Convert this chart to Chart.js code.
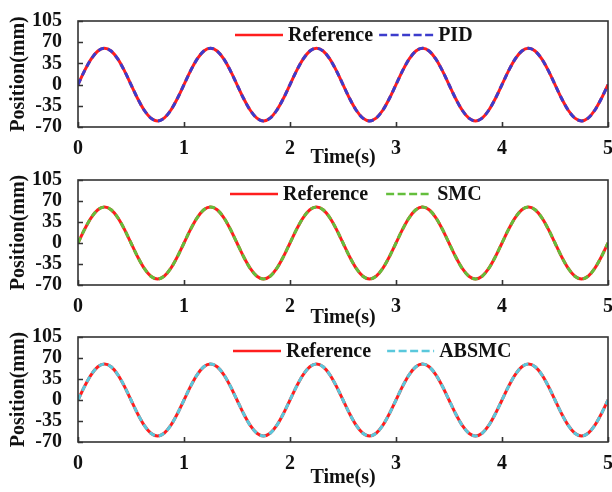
<!DOCTYPE html>
<html>
<head>
<meta charset="utf-8">
<script src="https://cdn.jsdelivr.net/npm/chart.js@4.4.1/dist/chart.umd.min.js"></script>
<style>
html, body { margin: 0; padding: 0; background: #fff; }
#wrap { position: relative; width: 612px; height: 492px; overflow: hidden; }
.panel { position: absolute; left: 0; width: 612px; height: 170px; }
</style>
</head>
<body>
<div id="wrap">
  <div class="panel" style="top:0px"><canvas id="c1" width="612" height="170"></canvas></div>
  <div class="panel" style="top:160px"><canvas id="c2" width="612" height="170"></canvas></div>
  <div class="panel" style="top:320px"><canvas id="c3" width="612" height="170"></canvas></div>
</div>
<script>
"use strict";

// time axis (s), one sample every 1/16 s
var timeS = [
  0, 0.0625, 0.125, 0.1875, 0.25, 0.3125, 0.375, 0.4375, 0.5, 0.5625, 0.625, 0.6875, 0.75, 0.8125, 0.875, 0.9375,
  1, 1.0625, 1.125, 1.1875, 1.25, 1.3125, 1.375, 1.4375, 1.5, 1.5625, 1.625, 1.6875, 1.75, 1.8125, 1.875, 1.9375,
  2, 2.0625, 2.125, 2.1875, 2.25, 2.3125, 2.375, 2.4375, 2.5, 2.5625, 2.625, 2.6875, 2.75, 2.8125, 2.875, 2.9375,
  3, 3.0625, 3.125, 3.1875, 3.25, 3.3125, 3.375, 3.4375, 3.5, 3.5625, 3.625, 3.6875, 3.75, 3.8125, 3.875, 3.9375,
  4, 4.0625, 4.125, 4.1875, 4.25, 4.3125, 4.375, 4.4375, 4.5, 4.5625, 4.625, 4.6875, 4.75, 4.8125, 4.875, 4.9375,
  5
];

// reference position (mm)
var refMm = [
  0, 23, 42.4, 55.4, 60, 55.4, 42.4, 23, 0, -23, -42.4, -55.4, -60, -55.4, -42.4, -23,
  0, 23, 42.4, 55.4, 60, 55.4, 42.4, 23, 0, -23, -42.4, -55.4, -60, -55.4, -42.4, -23,
  0, 23, 42.4, 55.4, 60, 55.4, 42.4, 23, 0, -23, -42.4, -55.4, -60, -55.4, -42.4, -23,
  0, 23, 42.4, 55.4, 60, 55.4, 42.4, 23, 0, -23, -42.4, -55.4, -60, -55.4, -42.4, -23,
  0, 23, 42.4, 55.4, 60, 55.4, 42.4, 23, 0, -23, -42.4, -55.4, -60, -55.4, -42.4, -23,
  0
];

// tracked positions (mm), they sit on top of the reference
var pidMm = [
  0, 23, 42.4, 55.4, 60, 55.4, 42.4, 23, 0, -23, -42.4, -55.4, -60, -55.4, -42.4, -23,
  0, 23, 42.4, 55.4, 60, 55.4, 42.4, 23, 0, -23, -42.4, -55.4, -60, -55.4, -42.4, -23,
  0, 23, 42.4, 55.4, 60, 55.4, 42.4, 23, 0, -23, -42.4, -55.4, -60, -55.4, -42.4, -23,
  0, 23, 42.4, 55.4, 60, 55.4, 42.4, 23, 0, -23, -42.4, -55.4, -60, -55.4, -42.4, -23,
  0, 23, 42.4, 55.4, 60, 55.4, 42.4, 23, 0, -23, -42.4, -55.4, -60, -55.4, -42.4, -23,
  0
];
var smcMm = [
  0, 23, 42.4, 55.4, 60, 55.4, 42.4, 23, 0, -23, -42.4, -55.4, -60, -55.4, -42.4, -23,
  0, 23, 42.4, 55.4, 60, 55.4, 42.4, 23, 0, -23, -42.4, -55.4, -60, -55.4, -42.4, -23,
  0, 23, 42.4, 55.4, 60, 55.4, 42.4, 23, 0, -23, -42.4, -55.4, -60, -55.4, -42.4, -23,
  0, 23, 42.4, 55.4, 60, 55.4, 42.4, 23, 0, -23, -42.4, -55.4, -60, -55.4, -42.4, -23,
  0, 23, 42.4, 55.4, 60, 55.4, 42.4, 23, 0, -23, -42.4, -55.4, -60, -55.4, -42.4, -23,
  0
];
var absmcMm = [
  0, 23, 42.4, 55.4, 60, 55.4, 42.4, 23, 0, -23, -42.4, -55.4, -60, -55.4, -42.4, -23,
  0, 23, 42.4, 55.4, 60, 55.4, 42.4, 23, 0, -23, -42.4, -55.4, -60, -55.4, -42.4, -23,
  0, 23, 42.4, 55.4, 60, 55.4, 42.4, 23, 0, -23, -42.4, -55.4, -60, -55.4, -42.4, -23,
  0, 23, 42.4, 55.4, 60, 55.4, 42.4, 23, 0, -23, -42.4, -55.4, -60, -55.4, -42.4, -23,
  0, 23, 42.4, 55.4, 60, 55.4, 42.4, 23, 0, -23, -42.4, -55.4, -60, -55.4, -42.4, -23,
  0
];

var yTicks = [-70, -35, 0, 35, 70, 105];
var xTicks = [0, 1, 2, 3, 4, 5];

var FONT = '"Liberation Serif", "Times New Roman", serif';

Chart.defaults.font.family = FONT;
Chart.defaults.font.weight = 'bold';
Chart.defaults.font.size = 20;
Chart.defaults.color = '#111';

function toPoints(xs, ys) {
  return xs.map(function(t, i) { return { x: t, y: ys[i] }; });
}

// frame box + inward tick marks
var framePlugin = {
  id: 'frame',
  afterDatasetsDraw: function(chart) {
    var ctx = chart.ctx, a = chart.chartArea;
    var xs = chart.scales.x, ys = chart.scales.y;
    ctx.save();
    ctx.strokeStyle = '#333';
    ctx.lineWidth = 1.6;
    ctx.beginPath();
    xs.ticks.forEach(function(t) {
      var px = Math.round(xs.getPixelForValue(t.value)) + 0.5;
      ctx.moveTo(px, a.bottom);
      ctx.lineTo(px, a.bottom - 5);
    });
    ys.ticks.forEach(function(t) {
      var py = Math.round(ys.getPixelForValue(t.value)) + 0.5;
      ctx.moveTo(a.left, py);
      ctx.lineTo(a.left + 5, py);
    });
    ctx.stroke();
    ctx.strokeRect(a.left, a.top, a.right - a.left, a.bottom - a.top);
    ctx.restore();
  }
};

// legend drawn inside the plot area
var inLegendPlugin = {
  id: 'inLegend',
  afterDraw: function(chart, args, opts) {
    var ctx = chart.ctx, a = chart.chartArea;
    var yMid = a.top + opts.dy;
    var x = opts.x0;
    ctx.save();
    ctx.font = 'bold 20px ' + FONT;
    ctx.textBaseline = 'middle';
    ctx.fillStyle = '#111';
    chart.data.datasets.forEach(function(ds, i) {
      var len = i === 0 ? 48 : opts.dashLen;
      ctx.strokeStyle = ds.borderColor;
      ctx.lineWidth = 2.5;
      ctx.setLineDash(i === 0 ? [] : [8, 3.5]);
      ctx.beginPath();
      ctx.moveTo(x, yMid);
      ctx.lineTo(x + len, yMid);
      ctx.stroke();
      x += len + 5;
      ctx.fillText(ds.label, x, yMid + 1);
      x += ctx.measureText(ds.label).width + opts.gap;
    });
    ctx.restore();
  }
};

function buildPanel(canvasId, label, values, color, geo) {
  var ctx = document.getElementById(canvasId).getContext('2d');
  return new Chart(ctx, {
    type: 'line',
    data: {
      datasets: [{
        label: 'Reference',
        data: toPoints(timeS, refMm),
        borderColor: '#ff1e1e',
        borderWidth: 3,
        pointRadius: 0,
        cubicInterpolationMode: 'monotone',
        order: 2
      }, {
        label: label,
        data: toPoints(timeS, values),
        borderColor: color,
        borderWidth: 3,
        borderDash: [6, 4],
        pointRadius: 0,
        cubicInterpolationMode: 'monotone',
        order: 1
      }]
    },
    options: {
      responsive: false,
      animation: false,
      layout: { padding: { top: geo.top, right: 4, left: 0, bottom: 0 } },
      plugins: {
        legend: { display: false },
        tooltip: { enabled: false },
        inLegend: { x0: geo.legendX0, gap: geo.legendGap, dashLen: geo.dashLen, dy: 14 }
      },
      scales: {
        x: {
          type: 'linear',
          min: 0, max: 5,
          afterBuildTicks: function(s) { s.ticks = xTicks.map(function(v) { return { value: v }; }); },
          ticks: { padding: 2, maxRotation: 0, autoSkip: false, color: '#111' },
          grid: { display: false },
          border: { display: false },
          title: { display: true, text: 'Time(s)', padding: 0, color: '#111' },
          afterFit: function(s) {
            s.height = geo.xAxisH;
            s.paddingLeft = 0; s.paddingRight = 0;
          }
        },
        y: {
          min: -70, max: 105,
          afterBuildTicks: function(s) { s.ticks = yTicks.map(function(v) { return { value: v }; }); },
          ticks: { padding: 8, autoSkip: false, color: '#111' },
          grid: { display: false },
          border: { display: false },
          title: { display: true, text: 'Position(mm)', padding: { top: 7, bottom: 0 }, color: '#111' },
          afterFit: function(s) {
            s.width = 78;
            s.paddingTop = 0; s.paddingBottom = 0;
          }
        }
      }
    },
    plugins: [framePlugin, inLegendPlugin]
  });
}

buildPanel('c1', 'PID', pidMm, '#3c3ccc',
  { top: 21, xAxisH: 43, legendX0: 235, legendGap: 6, dashLen: 54 });
buildPanel('c2', 'SMC', smcMm, '#64be3c',
  { top: 20, xAxisH: 45, legendX0: 230, legendGap: 18, dashLen: 46 });
buildPanel('c3', 'ABSMC', absmcMm, '#5ac8dc',
  { top: 17, xAxisH: 48, legendX0: 233, legendGap: 16, dashLen: 47 });
</script>
</body>
</html>
